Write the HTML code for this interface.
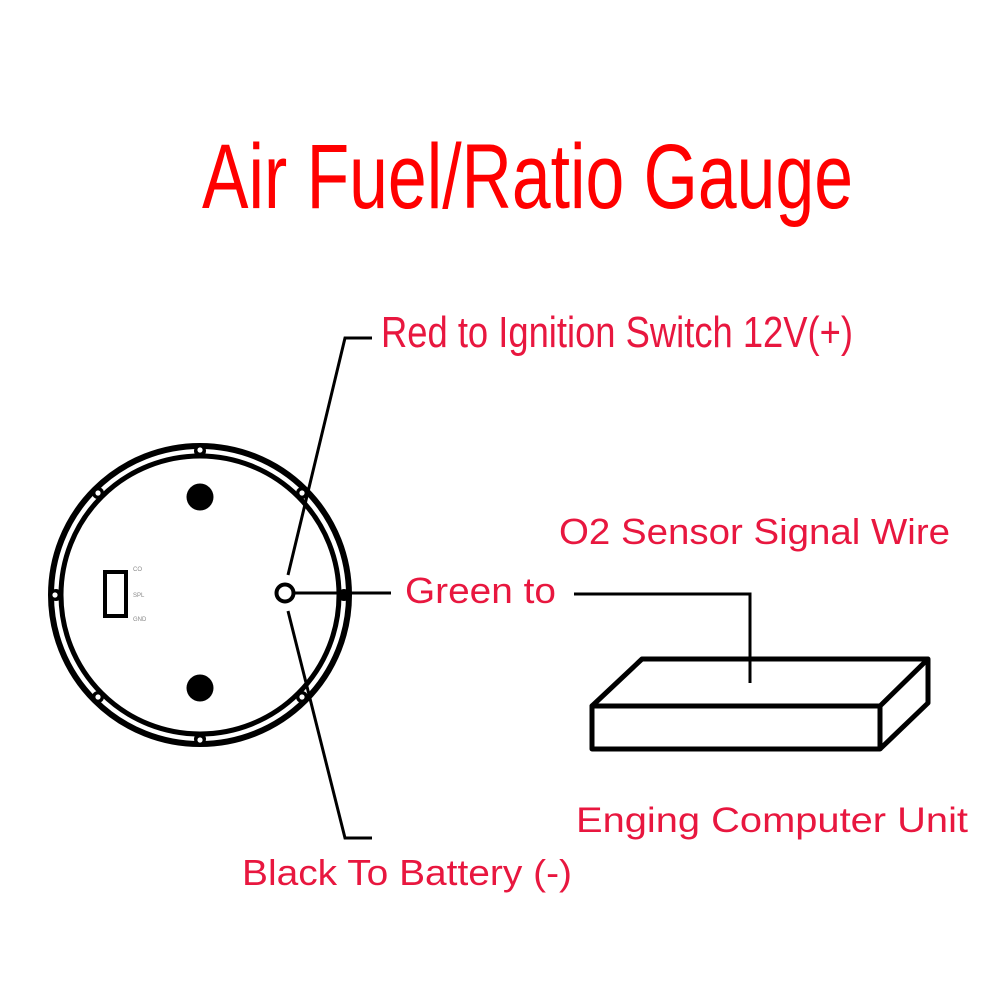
<!DOCTYPE html>
<html>
<head>
<meta charset="utf-8">
<style>
  html, body { margin: 0; padding: 0; background: #ffffff; }
  svg { display: block; }
  text { font-family: "Liberation Sans", "DejaVu Sans", sans-serif; }
</style>
</head>
<body>
<svg width="1000" height="1000" viewBox="0 0 1000 1000" xmlns="http://www.w3.org/2000/svg">
  <rect width="1000" height="1000" fill="#ffffff"/>

  <!-- Title -->
  <text x="202" y="208" font-size="92" fill="#ff0000" textLength="651" lengthAdjust="spacingAndGlyphs">Air Fuel/Ratio Gauge</text>

  <!-- Labels -->
  <text x="381" y="347" font-size="44" fill="#e8173f" textLength="472" lengthAdjust="spacingAndGlyphs">Red to Ignition Switch 12V(+)</text>
  <text x="559" y="544" font-size="36" fill="#e8173f" textLength="391" lengthAdjust="spacingAndGlyphs">O2 Sensor Signal Wire</text>
  <text x="405" y="603" font-size="36" fill="#e8173f" textLength="151" lengthAdjust="spacingAndGlyphs">Green to</text>
  <text x="576" y="832" font-size="35" fill="#e8173f" textLength="392" lengthAdjust="spacingAndGlyphs">Enging Computer Unit</text>
  <text x="242" y="885" font-size="36" fill="#e8173f" textLength="330" lengthAdjust="spacingAndGlyphs">Black To Battery (-)</text>

  <!-- Gauge -->
  <circle cx="200" cy="595" r="149" fill="none" stroke="#000" stroke-width="6"/>
  <circle cx="200" cy="595" r="139" fill="none" stroke="#000" stroke-width="5"/>
  <!-- notches -->
  <g fill="#000">
    <circle cx="200" cy="451" r="6"/>
    <circle cx="200" cy="739" r="6"/>
    <circle cx="56" cy="595" r="6"/>
    <circle cx="344" cy="595" r="6"/>
    <circle cx="98" cy="493" r="6"/>
    <circle cx="302" cy="493" r="6"/>
    <circle cx="98" cy="697" r="6"/>
    <circle cx="302" cy="697" r="6"/>
  </g>
  <g fill="#fff">
    <circle cx="200" cy="450" r="2.6"/>
    <circle cx="200" cy="740" r="2.6"/>
    <circle cx="55" cy="595" r="2.6"/>
    <circle cx="98" cy="493" r="2.6"/>
    <circle cx="302" cy="493" r="2.6"/>
    <circle cx="98" cy="697" r="2.6"/>
    <circle cx="302" cy="697" r="2.6"/>
  </g>
  <!-- mounting dots -->
  <circle cx="200" cy="497" r="13.5" fill="#000"/>
  <circle cx="200" cy="688" r="13.5" fill="#000"/>
  <!-- connector rectangle -->
  <rect x="105" y="572" width="21" height="44" fill="none" stroke="#000" stroke-width="4"/>
  <text x="133" y="571" font-size="6" fill="#888">CO</text>
  <text x="133" y="597" font-size="6" fill="#888">SPL</text>
  <text x="133" y="621" font-size="6" fill="#888">GND</text>

  <!-- wires -->
  <polyline points="288,575 345,338 372,338" fill="none" stroke="#000" stroke-width="3"/>
  <polyline points="288,611 345,838 372,838" fill="none" stroke="#000" stroke-width="3"/>
  <line x1="294" y1="593" x2="391" y2="593" stroke="#000" stroke-width="3"/>
  <!-- small terminal circle -->
  <circle cx="285" cy="593" r="8.5" fill="#fff" stroke="#000" stroke-width="4"/>

  <!-- O2 wire to ECU -->
  <polyline points="574,594 750,594 750,683" fill="none" stroke="#000" stroke-width="3"/>

  <!-- ECU box -->
  <g fill="none" stroke="#000" stroke-width="5" stroke-linejoin="round">
    <polygon points="642,659 928,659 880,706 592,706"/>
    <rect x="592" y="706" width="288" height="43"/>
    <polyline points="928,659 928,703 880,749"/>
  </g>
</svg>
</body>
</html>
